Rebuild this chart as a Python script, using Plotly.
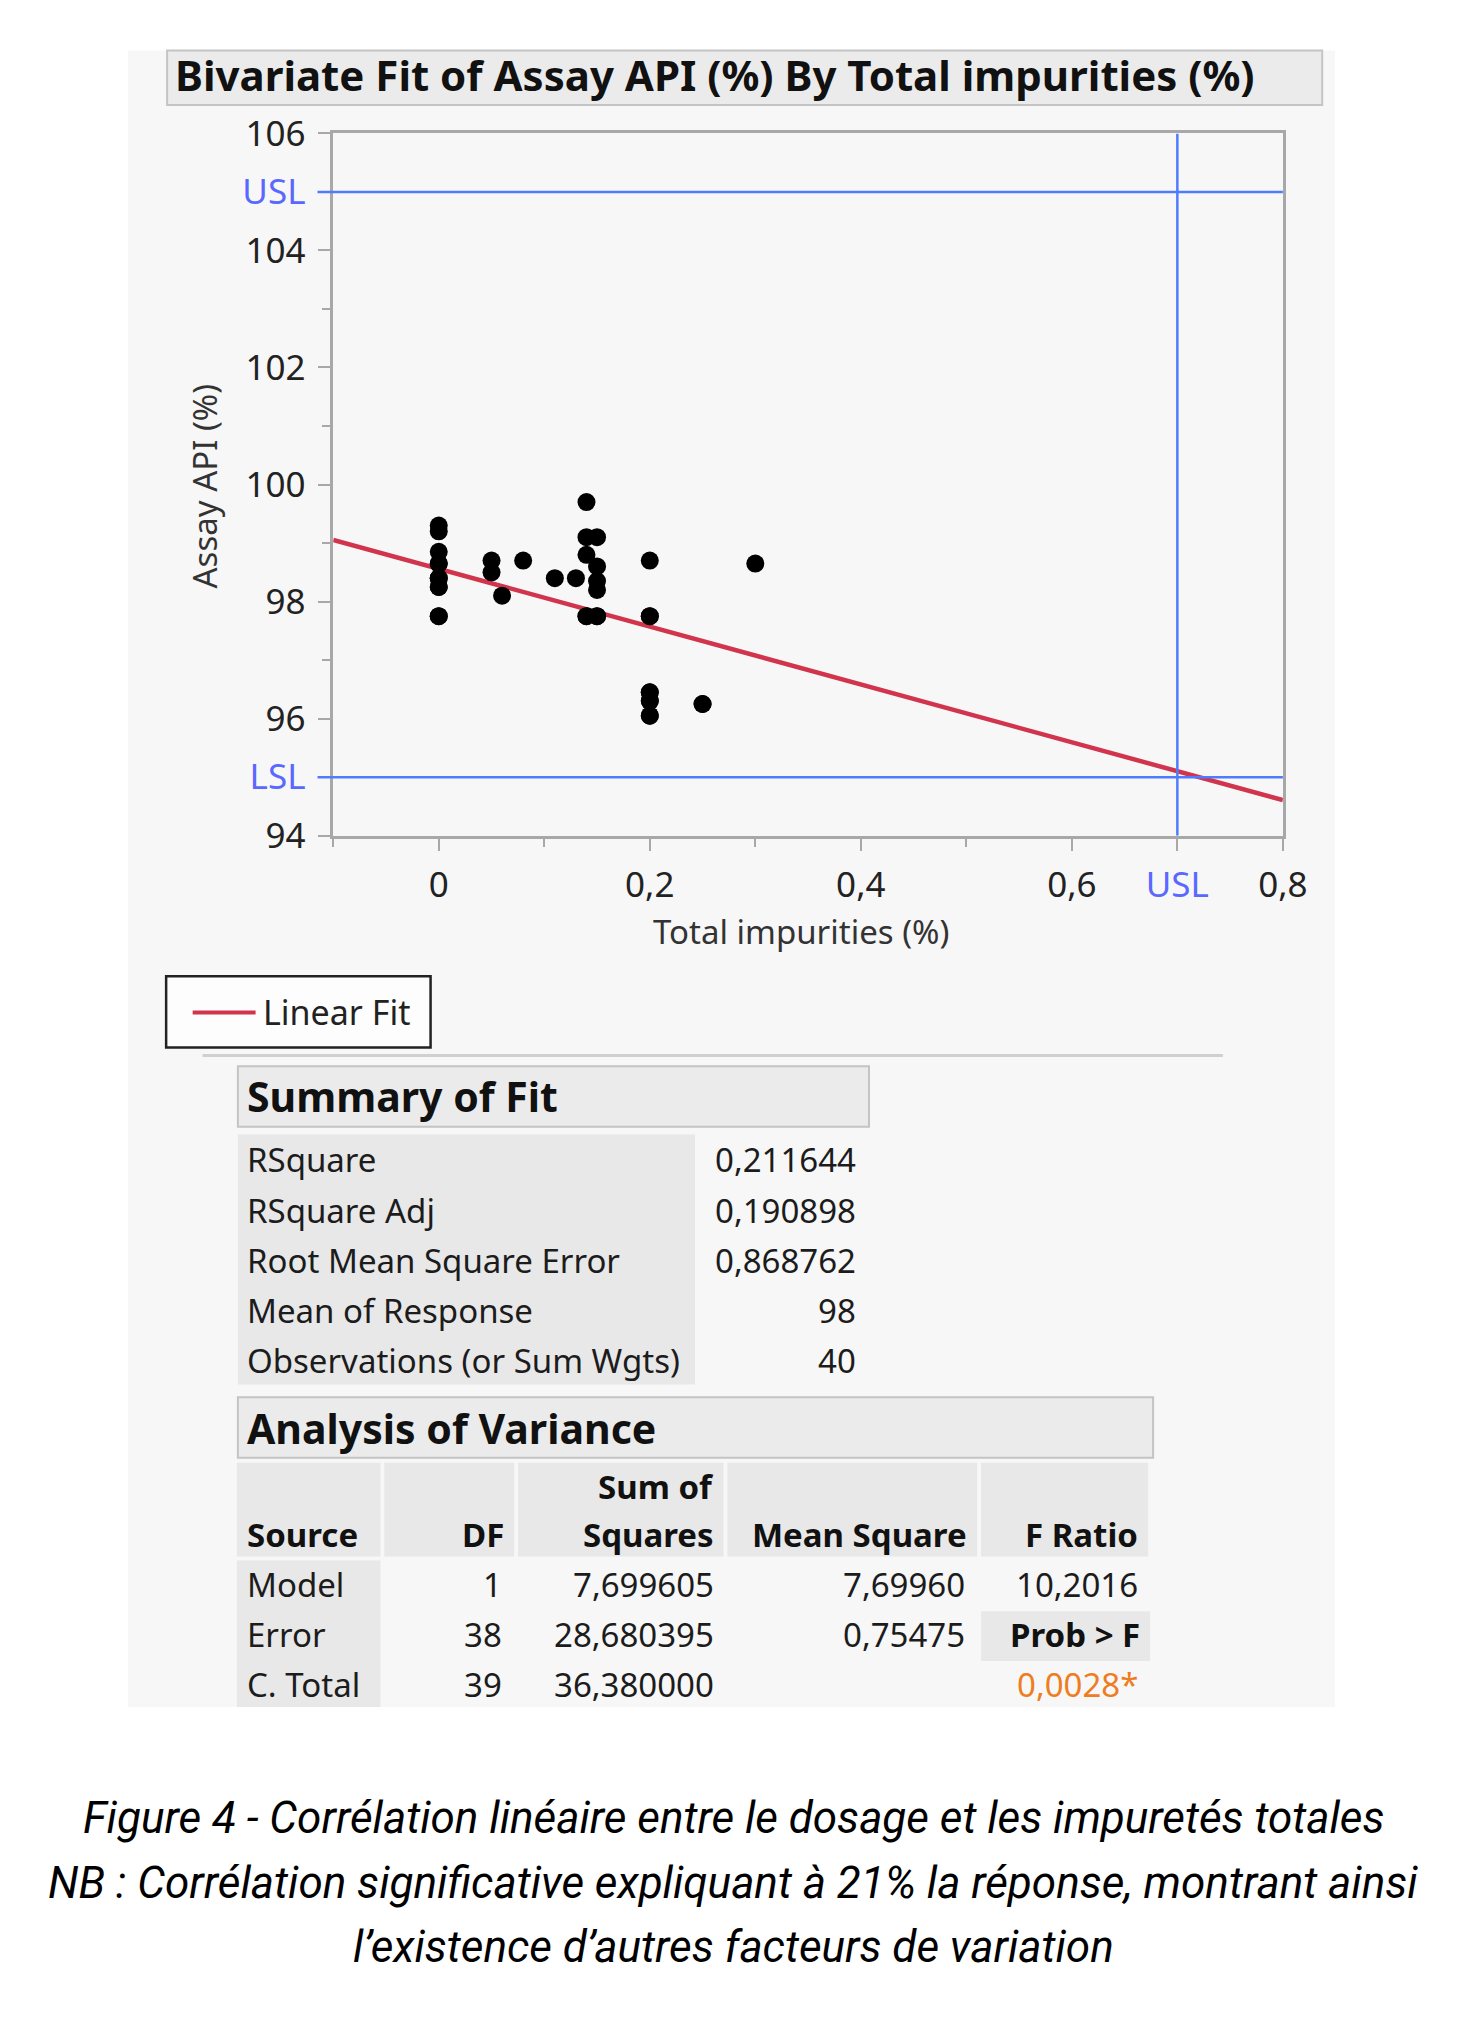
import plotly.graph_objects as go

W, H = 1474, 2018

# ---------------- data ----------------
impurities = [0, 0, 0, 0, 0, 0, 0, 0, 0, 0, 0,
              0.05, 0.05, 0.06, 0.08, 0.11, 0.13,
              0.14, 0.14, 0.14, 0.14, 0.14,
              0.15, 0.15, 0.15, 0.15, 0.15, 0.15,
              0.2, 0.2, 0.2, 0.2, 0.2, 0.2, 0.2, 0.2, 0.2,
              0.25, 0.25, 0.3]
assay = [99.3, 99.2, 98.85, 98.65, 98.65, 98.4, 98.4, 98.25, 98.25, 97.75, 97.75,
         98.7, 98.5, 98.1, 98.7, 98.4, 98.4,
         99.7, 99.1, 98.8, 97.75, 97.75,
         99.1, 98.6, 98.35, 98.2, 97.75, 97.75,
         98.7, 97.75, 97.75, 96.45, 96.45, 96.3, 96.3, 96.05, 96.05,
         96.25, 96.25, 98.65]

FIT_INTERCEPT = 98.56
FIT_SLOPE = -4.94
USL_Y, LSL_Y, USL_X = 105, 95, 0.7
X_RANGE = [-0.1, 0.8]
Y_RANGE = [94, 106]

x_tickvals = [0, 0.2, 0.4, 0.6, 0.7, 0.8]
x_ticktext = ["0", "0,2", "0,4", "0,6", "USL", "0,8"]
x_minor = [-0.1, 0.1, 0.3, 0.5]
y_tickvals = [94, 95, 96, 98, 100, 102, 104, 105, 106]
y_ticktext = ["94", "LSL", "96", "98", "100", "102", "104", "USL", "106"]
y_minor = [97, 99, 101, 103]

title_text = "Bivariate Fit of Assay API (%) By Total impurities (%)"
x_title = "Total impurities (%)"
y_title = "Assay API (%)"
legend_text = "Linear Fit"

summary_labels = ["RSquare", "RSquare Adj", "Root Mean Square Error",
                  "Mean of Response", "Observations (or Sum Wgts)"]
summary_values = ["0,211644", "0,190898", "0,868762", "98", "40"]

anova_headers = ["Source", "DF", "Sum of<br>Squares", "Mean Square", "F Ratio"]
anova_sources = ["Model", "Error", "C. Total"]
anova_df = ["1", "38", "39"]
anova_ss = ["7,699605", "28,680395", "36,380000"]
anova_ms = ["7,69960", "0,75475", ""]
anova_f = ["10,2016", "Prob > F", "0,0028*"]

caption_lines = [
    "Figure 4 - Corrélation linéaire entre le dosage et les impuretés totales",
    "NB : Corrélation significative expliquant à 21% la réponse, montrant ainsi",
    "l’existence d’autres facteurs de variation",
]

# ---------------- style ----------------
FONT = "Noto Sans"
TXT = "#1c1c1c"
BLUE = "#4f7cff"
BLUE_TXT = "#5a68ff"
RED = "#d1354d"
PANEL = "#f7f7f7"
CELL = "#e8e8e8"
BORDER = "#c4c4c4"
AXIS = "#a8a8a8"


def px(x):
    return x / W


def py(y):
    return 1 - y / H


def blue(s):
    return "<span style='color:%s'>%s</span>" % (BLUE_TXT, s)


shapes = []
annotations = []


def rect(x0, y0, x1, y1, fill, line=None, lw=0, layer="below"):
    shapes.append(dict(type="rect", xref="paper", yref="paper",
                       x0=px(x0), x1=px(x1), y0=py(y1), y1=py(y0),
                       fillcolor=fill, line=dict(color=line or fill, width=lw),
                       layer=layer))


def text(x, y, s, size, anchor="left", color=TXT, bold=False, family=FONT, angle=0):
    if bold:
        s = "<b>%s</b>" % s
    annotations.append(dict(xref="paper", yref="paper", x=px(x), y=py(y), text=s,
                            showarrow=False, xanchor=anchor, yanchor="middle",
                            textangle=angle,
                            font=dict(family=family, size=size, color=color)))


# panel
rect(130, 26, 1358, 1722, PANEL)
# title box
rect(170, 26, 1345, 82, "#ebebeb", BORDER, 2)
text(176, 51, title_text, 42, bold=True, color="#111")

# plot area coordinates
PX0, PX1, PY0, PY1 = 339, 1305, 111, 830

# spec limit lines
for yv in (USL_Y, LSL_Y):
    shapes.append(dict(type="line", xref="paper", yref="y", x0=px(PX0 - 16), x1=px(PX1),
                       y0=yv, y1=yv, line=dict(color=BLUE, width=2.5), layer="above"))
shapes.append(dict(type="line", xref="x", yref="y", x0=USL_X, x1=USL_X,
                   y0=Y_RANGE[0], y1=Y_RANGE[1], line=dict(color=BLUE, width=2.5), layer="above"))

# axis titles
text(208, 472, y_title, 33, anchor="center", color="#333", angle=-90)
text(815, 928, x_title, 33, anchor="center", color="#333")

# legend box
rect(169, 974, 438, 1047, "#fdfdfd", "#222", 2.5)
shapes.append(dict(type="line", xref="paper", yref="paper", x0=px(196), x1=px(260),
                   y0=py(1011), y1=py(1011), line=dict(color=RED, width=4)))
text(266, 1011, legend_text, 34, color="#222")

# separator
shapes.append(dict(type="line", xref="paper", yref="paper", x0=px(206), x1=px(1244),
                   y0=py(1055), y1=py(1055), line=dict(color="#d0d0d0", width=3)))

# Summary of Fit
rect(242, 1066, 884, 1128, "#ebebeb", BORDER, 2)
text(249, 1097, "Summary of Fit", 41, bold=True, color="#111")
rect(242, 1136, 707, 1392, CELL)
row_y0 = 1162
row_h = 51.3
for i, (lab, val) in enumerate(zip(summary_labels, summary_values)):
    yy = row_y0 + i * row_h
    text(249, yy, lab, 33)
    text(873, yy, val, 33, anchor="right")

# Analysis of Variance
rect(242, 1405, 1173, 1467, "#ebebeb", BORDER, 2)
text(249, 1436, "Analysis of Variance", 41, bold=True, color="#111")
col_edges = [(241, 387), (391, 523), (527, 736), (740, 994), (998, 1168)]
for (c0, c1), hdr in zip(col_edges, anova_headers):
    rect(c0, 1472, c1, 1568, CELL)
    if "<br>" in hdr:
        a, b = hdr.split("<br>")
        text(c1 - 8, 1496, a, 33, anchor="right", bold=True, color="#111")
        text(c1 - 8, 1545, b, 33, anchor="right", bold=True, color="#111")
    elif hdr == "Source":
        text(249, 1545, hdr, 33, bold=True, color="#111")
    else:
        text(c1 - 8, 1545, hdr, 33, anchor="right", bold=True, color="#111")
rect(241, 1572, 387, 1722, CELL)
rect(998, 1624, 1170, 1675, CELL)
arow_y0 = 1597
arow_h = 51
for i in range(3):
    yy = arow_y0 + i * arow_h
    text(249, yy, anova_sources[i], 33)
    text(513, yy, anova_df[i], 33, anchor="right")
    text(728, yy, anova_ss[i], 33, anchor="right")
    text(984, yy, anova_ms[i], 33, anchor="right")
    if anova_f[i] == "Prob > F":
        text(1162, yy, anova_f[i], 33, anchor="right", bold=True, color="#111")
    elif anova_f[i].endswith("*"):
        text(1160, yy, anova_f[i], 33, anchor="right", color="#ee7d22")
    else:
        text(1160, yy, anova_f[i], 33, anchor="right")

# caption
for i, line in enumerate(caption_lines):
    text(746, 1836 + i * 66, "<i>%s</i>" % line, 44, anchor="center", color="#000",
         family="Roboto")

# ---------------- traces ----------------
fit_x = X_RANGE
fit_y = [FIT_INTERCEPT + FIT_SLOPE * v for v in fit_x]

fig = go.Figure()
fig.add_trace(go.Scatter(x=fit_x, y=fit_y, mode="lines",
                         line=dict(color=RED, width=4.5), hoverinfo="skip"))
fig.add_trace(go.Scatter(x=impurities, y=assay, mode="markers",
                         marker=dict(color="black", size=18, line=dict(width=0))))

fig.update_layout(
    width=W, height=H, margin=dict(l=0, r=0, t=0, b=0),
    paper_bgcolor="white", plot_bgcolor="white",
    showlegend=False,
    shapes=shapes, annotations=annotations,
    font=dict(family=FONT, size=33, color=TXT),
    xaxis=dict(domain=[px(PX0), px(PX1)], range=X_RANGE, showgrid=False, zeroline=False,
               showline=True, mirror=True, linecolor=AXIS, linewidth=2.5,
               ticks="outside", ticklen=13, tickwidth=2, tickcolor=AXIS,
               tickvals=x_tickvals,
               ticktext=[blue(t) if t == "USL" else t for t in x_ticktext],
               tickfont=dict(family=FONT, size=35, color="#222"),
               ticklabelstandoff=4,
               minor=dict(tickvals=x_minor, ticklen=9, tickwidth=2, tickcolor=AXIS, ticks="outside")),
    yaxis=dict(domain=[py(PY1), py(PY0)], range=Y_RANGE, showgrid=False, zeroline=False,
               showline=True, mirror=True, linecolor=AXIS, linewidth=2.5,
               ticks="outside", ticklen=13, tickwidth=2, tickcolor=AXIS,
               tickvals=y_tickvals,
               ticktext=[blue(t) if t in ("USL", "LSL") else t for t in y_ticktext],
               tickfont=dict(family=FONT, size=35, color="#222"),
               ticklabelstandoff=5,
               minor=dict(tickvals=y_minor, ticklen=9, tickwidth=2, tickcolor=AXIS, ticks="outside")),
)

fig.write_html("out.html", config={"displayModeBar": False},
               post_script="document.body.style.margin='0';")
